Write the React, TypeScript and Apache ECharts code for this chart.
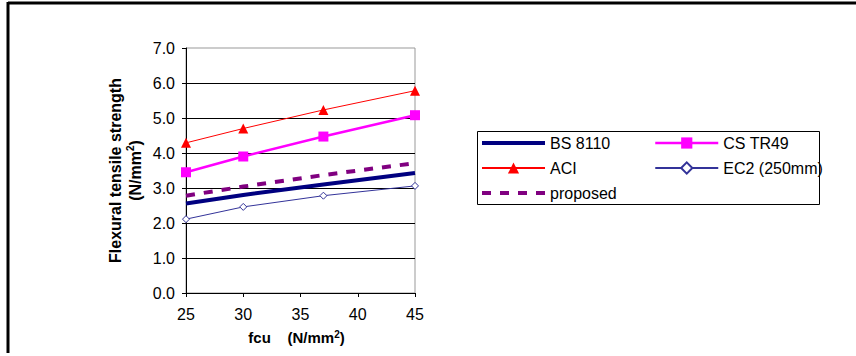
import React, { useEffect, useRef } from "react";
import * as echarts from "echarts";

const fcu = [25, 30, 37, 45];
const bs8110 = [2.56, 2.8, 3.1, 3.43];
const csTR49 = [3.45, 3.9, 4.47, 5.08];
const aci = [4.29, 4.7, 5.23, 5.78];
const ec2 = [2.11, 2.46, 2.78, 3.06];
const proposed = [2.78, 3.04, 3.37, 3.71];

const FONT = "Liberation Sans, Arial, sans-serif";

const pairs = (ys: number[]) => fcu.map((x, i) => [x, ys[i]]);

const legendBase = {
  orient: "vertical",
  padding: 0,
  itemGap: 9,
  itemWidth: 63,
  itemHeight: 14,
  top: 135,
  textStyle: { fontFamily: FONT, fontSize: 16, color: "#000" },
};

export default function App() {
  const ref = useRef<HTMLDivElement>(null);
  useEffect(() => {
    if (!ref.current) return;
    const chart = echarts.init(ref.current, undefined, { renderer: "svg" });
    const supRich = {
      sup: { fontSize: 10, fontWeight: "bold", verticalAlign: "top", padding: [0, 0, 7, 0], fontFamily: FONT },
    };
    chart.setOption({
      animation: false,
      backgroundColor: "#ffffff",
      grid: {
        left: 186,
        right: 441,
        top: 48,
        bottom: 63,
        show: true,
        borderColor: "#999999",
        borderWidth: 1,
      },
      xAxis: {
        type: "value",
        min: 25,
        max: 45,
        interval: 5,
        name: "fcu    (N/mm{sup|2})",
        nameLocation: "middle",
        nameGap: 36,
        nameTextStyle: {
          fontFamily: FONT,
          fontSize: 15,
          fontWeight: "bold",
          color: "#000",
          padding: [0, 8, 0, 0],
          rich: supRich,
        },
        axisLine: { show: true, lineStyle: { color: "#000", width: 1 } },
        axisTick: { show: true, length: 4, lineStyle: { color: "#000" } },
        axisLabel: { fontFamily: FONT, fontSize: 16, color: "#000", margin: 13 },
        splitLine: { show: false },
      },
      yAxis: {
        type: "value",
        min: 0,
        max: 7,
        interval: 1,
        name: "Flexural tensile strength\n(N/mm{sup|2})",
        nameLocation: "middle",
        nameGap: 41,
        nameTextStyle: {
          fontFamily: FONT,
          fontSize: 16,
          fontWeight: "bold",
          color: "#000",
          lineHeight: 20,
          rich: supRich,
        },
        axisLine: { show: true, lineStyle: { color: "#000", width: 1 } },
        axisTick: { show: true, length: 4, lineStyle: { color: "#000" } },
        axisLabel: {
          fontFamily: FONT,
          fontSize: 16,
          color: "#000",
          margin: 11,
          formatter: (v: number) => v.toFixed(1),
        },
        splitLine: { show: true, showMaxLine: false, lineStyle: { color: "#000", width: 1 } },
      },
      legend: [
        {
          ...legendBase,
          left: 480,
          data: [
            { name: "BS 8110", itemStyle: { opacity: 0 }, lineStyle: { width: 4, color: "#000080" } },
            { name: "ACI" },
            { name: "proposed", itemStyle: { opacity: 0 }, lineStyle: { width: 4, color: "#800080", type: [9, 9] } },
          ],
        },
        {
          ...legendBase,
          left: 654,
          data: [{ name: "CS TR49", lineStyle: { width: 2.5 } }, { name: "EC2 (250mm)" }],
        },
      ],
      series: [
        {
          name: "BS 8110",
          type: "line",
          data: pairs(bs8110),
          showSymbol: false,
          symbol: "none",
          lineStyle: { color: "#000080", width: 4 },
          itemStyle: { color: "#000080" },
          z: 3,
        },
        {
          name: "CS TR49",
          type: "line",
          data: pairs(csTR49),
          symbol: "rect",
          symbolSize: 10,
          lineStyle: { color: "#ff00ff", width: 2.5 },
          itemStyle: { color: "#ff00ff" },
          z: 3,
        },
        {
          name: "ACI",
          type: "line",
          data: pairs(aci),
          symbol: "triangle",
          symbolSize: 10,
          lineStyle: { color: "#ff0000", width: 1 },
          itemStyle: { color: "#ff0000" },
          z: 3,
        },
        {
          name: "EC2 (250mm)",
          type: "line",
          data: pairs(ec2),
          symbol: "diamond",
          symbolSize: 7,
          lineStyle: { color: "#333399", width: 1 },
          itemStyle: { color: "#ffffff", borderColor: "#333399", borderWidth: 1 },
          z: 3,
        },
        {
          name: "proposed",
          type: "line",
          data: pairs(proposed),
          symbol: "none",
          lineStyle: { color: "#800080", width: 4, type: [9, 9] },
          itemStyle: { color: "#800080" },
          z: 3,
        },
      ],
      graphic: [
        {
          type: "line",
          shape: { x1: 8, y1: 3, x2: 856, y2: 3 },
          style: { stroke: "#000", lineWidth: 3 },
        },
        {
          type: "line",
          shape: { x1: 8, y1: 2, x2: 8, y2: 353 },
          style: { stroke: "#000", lineWidth: 3 },
        },
        {
          type: "rect",
          shape: { x: 477.5, y: 131.5, width: 342, height: 73 },
          style: { fill: "none", stroke: "#000", lineWidth: 1 },
          z: -1,
        },
      ],
    });
    return () => chart.dispose();
  }, []);
  return (
    <div
      ref={ref}
      style={{ position: "fixed", left: 0, top: 0, width: 856, height: 356, background: "#fff" }}
    />
  );
}
